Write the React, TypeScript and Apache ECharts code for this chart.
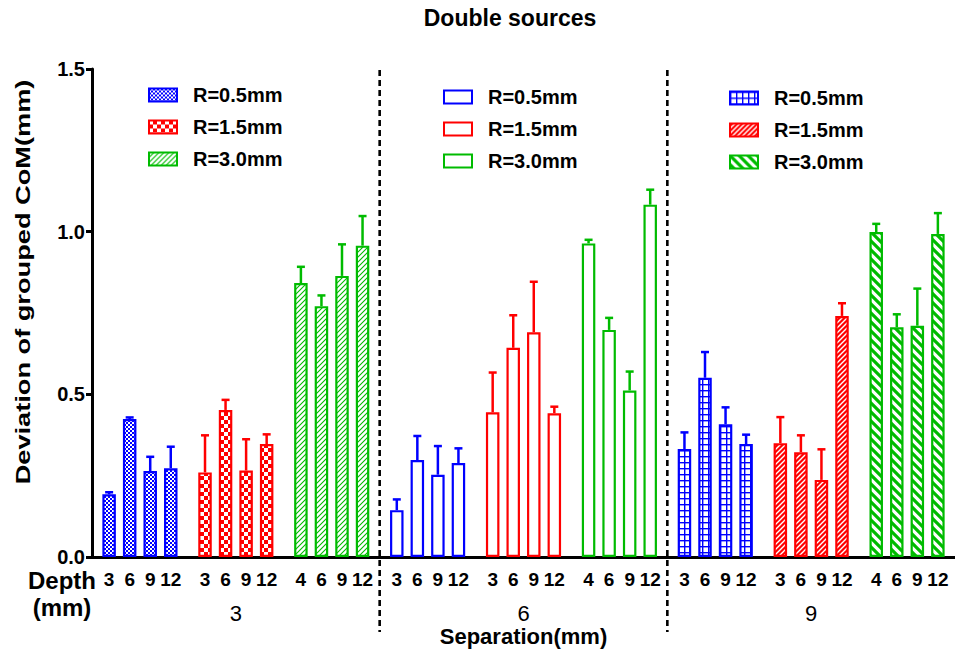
import React, { useEffect, useRef } from 'react';
import * as echarts from 'echarts';

const chartTitle = 'Double sources';
const yAxisTitle = 'Deviation of grouped CoM(mm)';
const xAxisTitle = 'Separation(mm)';
const depthTitle = ['Depth', '(mm)'];
const separations = ['3', '6', '9'];
const radii = ['R=0.5mm', 'R=1.5mm', 'R=3.0mm'];
const depthsSmallR = ['3', '6', '9', '12'];
const depthsLargeR = ['4', '6', '9', '12'];

// mean values, order: R=0.5 (4 depths), R=1.5 (4 depths), R=3.0 (4 depths)
const meanSep3 = [0.193, 0.424, 0.264, 0.273, 0.26, 0.452, 0.266, 0.347, 0.842, 0.771, 0.864, 0.957];
const sdSep3 = [0.006, 0.005, 0.044, 0.066, 0.114, 0.031, 0.096, 0.03, 0.05, 0.033, 0.097, 0.091];
const meanSep6 = [0.144, 0.298, 0.253, 0.289, 0.445, 0.643, 0.691, 0.442, 0.964, 0.698, 0.512, 1.083];
const sdSep6 = [0.033, 0.074, 0.088, 0.045, 0.122, 0.1, 0.155, 0.02, 0.011, 0.037, 0.058, 0.046];
const meanSep9 = [0.332, 0.551, 0.408, 0.347, 0.35, 0.322, 0.237, 0.741, 0.999, 0.706, 0.711, 0.993];
const sdSep9 = [0.051, 0.079, 0.052, 0.029, 0.08, 0.052, 0.094, 0.039, 0.025, 0.04, 0.114, 0.064];

const means = [meanSep3, meanSep6, meanSep9];
const sds = [sdSep3, sdSep6, sdSep9];

const FONT = '"Liberation Sans", Arial, Helvetica, sans-serif';
const BLUE = '#0000ff';
const RED = '#ff0000';
const GREEN = '#00bb00';
const radiusColors = [BLUE, RED, GREEN];

// category layout: bars every STEP slots, GROUP_GAP slots between groups
const STEP = 3;
const GROUP_GAP = 5;
const LEAD = 2;
const TRAIL = 2;
const groupSpan = 3 * STEP + GROUP_GAP;
const catIndex = (s: number, g: number, i: number) => LEAD + (s * 3 + g) * groupSpan + i * STEP;
const nCats = catIndex(2, 2, 3) + TRAIL + 1;
const depthLabelsFor = (g: number) => (g === 2 ? depthsLargeR : depthsSmallR);
const categories: string[] = new Array(nCats).fill('');
for (let s = 0; s < 3; s++)
  for (let g = 0; g < 3; g++)
    for (let i = 0; i < 4; i++) categories[catIndex(s, g, i)] = depthLabelsFor(g)[i];

const svgUrl = (w: number, h: number, body: string) =>
  'data:image/svg+xml;charset=utf-8,' +
  encodeURIComponent(`<svg xmlns="http://www.w3.org/2000/svg" width="${w}" height="${h}" viewBox="0 0 ${w} ${h}">${body}</svg>`);
const pat = (w: number, h: number, body: string) => ({
  image: svgUrl(w, h, body),
  repeat: 'repeat',
  imageWidth: w,
  imageHeight: h,
});
const diagUp = (w: number, c: string, lw: number) =>
  `<path d="M0,${w} L${w},0 M-2,2 L2,-2 M${w - 2},${w + 2} L${w + 2},${w - 2}" stroke="${c}" stroke-width="${lw}" fill="none"/>`;
const diagDown = (w: number, c: string, lw: number) =>
  `<path d="M0,0 L${w},${w} M-2,${w - 2} L2,${w + 2} M${w - 2},-2 L${w + 2},2" stroke="${c}" stroke-width="${lw}" fill="none"/>`;

const fills: any[][] = [
  [
    pat(4, 4, `<rect width="4" height="4" fill="#fff"/><rect width="2" height="2" fill="${BLUE}"/><rect x="2" y="2" width="2" height="2" fill="${BLUE}"/>`),
    pat(8, 8, `<rect width="8" height="8" fill="${RED}"/><rect width="4" height="4" fill="#fff"/><rect x="4" y="4" width="4" height="4" fill="#fff"/>`),
    pat(5, 5, `<rect width="5" height="5" fill="#fff"/>${diagUp(5, GREEN, 1.1)}`),
  ],
  ['#ffffff', '#ffffff', '#ffffff'],
  [
    pat(6, 6, `<rect width="6" height="6" fill="#fff"/><rect width="6" height="1.4" fill="${BLUE}"/><rect width="1.4" height="6" fill="${BLUE}"/>`),
    pat(5, 5, `<rect width="5" height="5" fill="${RED}"/>${diagUp(5, '#fff', 1.4)}`),
    pat(9, 9, `<rect width="9" height="9" fill="#fff"/>${diagDown(9, GREEN, 3.2)}`),
  ],
];

const seriesName = (s: number, g: number) => `${s}#${radii[g]}`;

const barSeries: any[] = [];
const errData: any[] = [];
for (let s = 0; s < 3; s++) {
  for (let g = 0; g < 3; g++) {
    const data: any[] = [];
    for (let i = 0; i < 4; i++) {
      const m = means[s][g * 4 + i];
      const sd = sds[s][g * 4 + i];
      data.push([catIndex(s, g, i), m]);
      errData.push([catIndex(s, g, i), m, m + sd, g]);
    }
    barSeries.push({
      type: 'bar',
      name: seriesName(s, g),
      data,
      barWidth: 13.5,
      barGap: '-100%',
      z: 2,
      itemStyle: { color: fills[s][g], borderColor: radiusColors[g], borderWidth: 2.2 },
      emphasis: { disabled: true },
    });
  }
}

const legendPos = [
  { left: 148, top: 85 },
  { left: 443, top: 87 },
  { left: 729, top: 88 },
];

export default function App() {
  const ref = useRef<HTMLDivElement>(null);
  useEffect(() => {
    document.body.style.margin = '0';
    const chart = echarts.init(ref.current!, null, { renderer: 'svg' });
    const option: any = {
      animation: false,
      backgroundColor: '#ffffff',
      title: {
        text: chartTitle,
        left: 510,
        top: 6,
        padding: 0,
        textAlign: 'center',
        textStyle: { fontFamily: FONT, fontSize: 23, fontWeight: 'bold', color: '#000' },
      },
      grid: { left: 92, right: 0, top: 69, bottom: 97, containLabel: false },
      legend: legendPos.map((p, s) => ({
        orient: 'vertical',
        left: p.left,
        top: p.top,
        padding: 0,
        itemWidth: 28,
        itemHeight: 13,
        itemGap: 12,
        icon: 'rect',
        selectedMode: false,
        formatter: (n: string) => n.split('#')[1],
        textStyle: {
          fontFamily: FONT,
          fontSize: 20,
          fontWeight: 'bold',
          color: '#000',
          lineHeight: 20,
          padding: [0, 0, 0, 11],
        },
        data: radii.map((_, g) => ({
          name: seriesName(s, g),
          itemStyle: { borderColor: radiusColors[g], borderWidth: 2 },
        })),
      })),
      xAxis: [
        {
          type: 'category',
          data: categories,
          boundaryGap: true,
          axisLine: { lineStyle: { color: '#000', width: 3 } },
          axisTick: {
            alignWithLabel: true,
            interval: (_i: number, v: string) => v !== '',
            length: 7,
            lineStyle: { color: '#000', width: 3 },
          },
          axisLabel: {
            interval: (_i: number, v: string) => v !== '',
            margin: 13,
            fontFamily: FONT,
            fontSize: 19,
            fontWeight: 'bold',
            color: '#000',
          },
          splitLine: { show: false },
        },
      ],
      yAxis: {
        type: 'value',
        min: 0,
        max: 1.5,
        interval: 0.5,
        axisLine: { show: true, lineStyle: { color: '#000', width: 3 } },
        axisTick: { show: true, length: 6, lineStyle: { color: '#000', width: 3 } },
        axisLabel: {
          margin: 7,
          fontFamily: FONT,
          fontSize: 20,
          fontWeight: 'bold',
          color: '#000',
          formatter: (v: number) => v.toFixed(1),
        },
        splitLine: { show: false },
      },
      series: [
        ...barSeries,
        {
          type: 'custom',
          name: 'err',
          z: 3,
          data: errData,
          renderItem: (_p: any, api: any) => {
            const x = api.value(0);
            const p0 = api.coord([x, api.value(1)]);
            const p1 = api.coord([x, api.value(2)]);
            const c = radiusColors[api.value(3)];
            return {
              type: 'group',
              children: [
                { type: 'line', shape: { x1: p0[0], y1: p0[1], x2: p1[0], y2: p1[1] }, style: { stroke: c, lineWidth: 2.5 } },
                { type: 'line', shape: { x1: p1[0] - 4, y1: p1[1], x2: p1[0] + 4, y2: p1[1] }, style: { stroke: c, lineWidth: 2.5 } },
              ],
            };
          },
        },
      ],
    };
    chart.setOption(option);

    const px = (i: number) => chart.convertToPixel({ xAxisIndex: 0 }, i) as number;
    const yTop = chart.convertToPixel({ yAxisIndex: 0 }, 1.5) as number;
    const yZero = chart.convertToPixel({ yAxisIndex: 0 }, 0) as number;
    const graphics: any[] = [];
    for (let s = 0; s < separations.length - 1; s++) {
      const x = (px(catIndex(s, 2, 3)) + px(catIndex(s + 1, 0, 0))) / 2;
      graphics.push({
        type: 'line',
        shape: { x1: x, y1: yTop + 1, x2: x, y2: yZero + 75 },
        style: { stroke: '#000', lineWidth: 2.6, lineDash: [6, 4] },
        z: 5,
      });
    }
    separations.forEach((lab, s) => {
      const x = (px(catIndex(s, 0, 0)) + px(catIndex(s, 2, 3))) / 2;
      graphics.push({
        type: 'text',
        x,
        y: yZero + 56,
        style: { text: lab, font: `22px ${FONT}`, fill: '#000', textAlign: 'center', textVerticalAlign: 'middle' },
      });
    });
    graphics.push({
      type: 'text',
      x: (px(0) + px(nCats - 1)) / 2,
      y: yZero + 79,
      style: { text: xAxisTitle, font: `bold 22px ${FONT}`, fill: '#000', textAlign: 'center', textVerticalAlign: 'middle' },
    });
    graphics.push({
      type: 'text',
      x: 62,
      y: yZero + 23,
      style: { text: depthTitle[0], font: `bold 24px ${FONT}`, fill: '#000', textAlign: 'center', textVerticalAlign: 'middle' },
    });
    graphics.push({
      type: 'text',
      x: 62,
      y: yZero + 50,
      style: { text: depthTitle[1], font: `bold 24px ${FONT}`, fill: '#000', textAlign: 'center', textVerticalAlign: 'middle' },
    });
    graphics.push({
      type: 'text',
      x: 23,
      y: 282,
      rotation: Math.PI / 2,
      scaleX: 1.36,
      style: { text: yAxisTitle, font: `bold 20px ${FONT}`, fill: '#000', textAlign: 'center', textVerticalAlign: 'middle' },
    });
    chart.setOption({ graphic: graphics });

    return () => chart.dispose();
  }, []);
  return <div ref={ref} style={{ width: 955, height: 654 }} />;
}
